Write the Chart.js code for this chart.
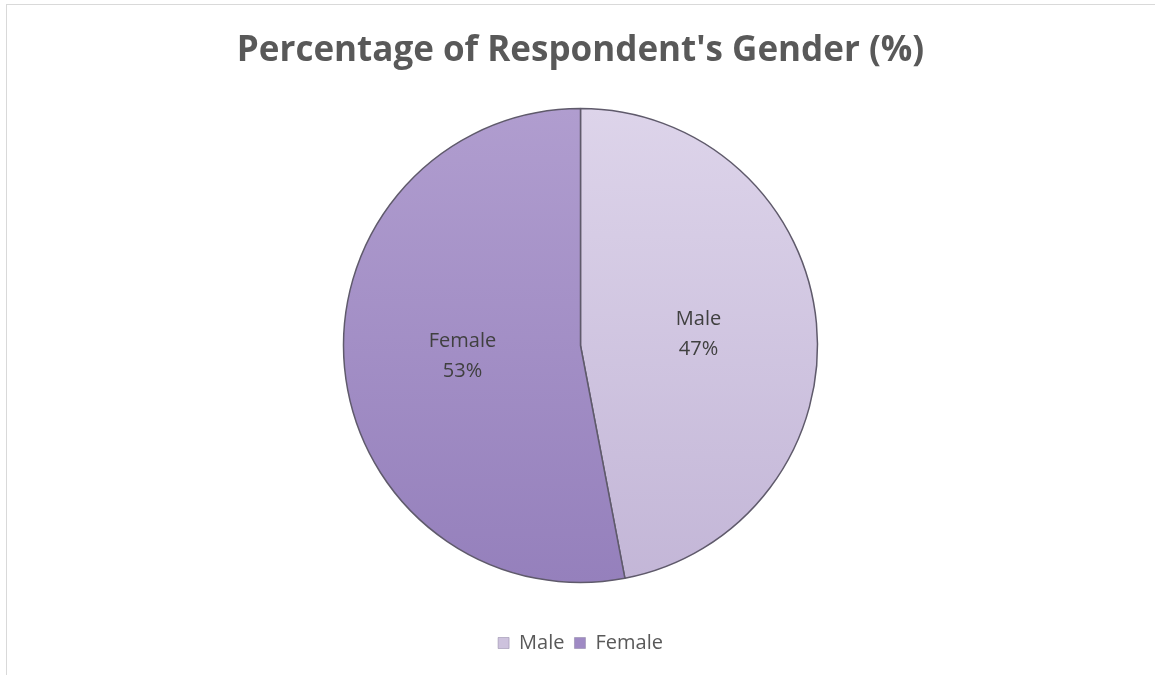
<!DOCTYPE html>
<html>
<head>
<meta charset="utf-8">
<script src="https://cdn.jsdelivr.net/npm/chart.js@4.4.0/dist/chart.umd.min.js"></script>
<style>
  html, body { margin: 0; padding: 0; background: #fff; }
  #wrap { position: relative; width: 1155px; height: 675px; }
  #frame { position: absolute; left: 6px; top: 4px; right: 0; bottom: 0;
           border-top: 1.5px solid #d9d9d9; border-left: 1.5px solid #d9d9d9; }
  canvas { position: absolute; left: 0; top: 0; }
</style>
</head>
<body>
<div id="wrap">
  <div id="frame"></div>
  <canvas id="mycanvas" width="1155" height="675"></canvas>
</div>
<script>
var kategorie = ["Male", "Female"];
var wartosci = [47, 53];
var tytul = "Percentage of Respondent's Gender (%)";

// kolory: gora / dol gradientu
var koloryGora = ['#ddd4ea', '#b09dcf'];
var koloryDol = ['#c3b6d7', '#9580bc'];
var koloryLegendy = ['#cdc2dd', '#9f8ac4'];

function gradient(context) {
	var chart = context.chart;
	var area = chart.chartArea;
	if (!area) return koloryLegendy[context.dataIndex];
	var meta = chart.getDatasetMeta(0);
	var arc = meta.data[context.dataIndex];
	var cy = arc && arc.y ? arc.y : (area.top + area.bottom) / 2;
	var r = arc && arc.outerRadius ? arc.outerRadius : 237;
	var g = chart.ctx.createLinearGradient(0, cy - r, 0, cy + r);
	g.addColorStop(0, koloryGora[context.dataIndex]);
	g.addColorStop(1, koloryDol[context.dataIndex]);
	return g;
}

// etykiety w srodku wycinkow
var etykiety = {
	id: 'etykiety',
	afterDatasetsDraw: function(chart) {
		var ctx = chart.ctx;
		var meta = chart.getDatasetMeta(0);
		var suma = wartosci.reduce(function(a, b) { return a + b; }, 0);
		ctx.save();
		ctx.fillStyle = '#404040';
		ctx.font = '20px "Open Sans"';
		ctx.textAlign = 'center';
		ctx.textBaseline = 'middle';
		meta.data.forEach(function(arc, i) {
			var p = arc.tooltipPosition();
			var proc = Math.round(wartosci[i] / suma * 100) + '%';
			ctx.fillText(kategorie[i], p.x, p.y - 15);
			ctx.fillText(proc, p.x, p.y + 15);
		});
		ctx.restore();
	}
};

var ctx = document.getElementById('mycanvas');

var wykres = new Chart(ctx, {
	type: 'pie',
	data: {
		labels: kategorie,
		datasets: [{
			data: wartosci,
			backgroundColor: gradient,
			borderColor: '#5f5a6b',
			borderWidth: 1.5,
			radius: 237
		}]
	},
	options: {
		responsive: false,
		animation: false,
		layout: { padding: { top: 14, bottom: 12, left: 6, right: 0 } },
		plugins: {
			title: {
				display: true,
				text: tytul,
				color: '#595959',
				font: { family: '"Open Sans"', size: 35, weight: 'bold' },
				padding: { top: 16, bottom: -4 }
			},
			legend: {
				position: 'bottom',
				labels: {
					color: '#595959',
					font: { family: '"Open Sans"', size: 20 },
					boxWidth: 11,
					boxHeight: 11,
					padding: 10,
					generateLabels: function(chart) {
						return kategorie.map(function(k, i) {
							return {
								text: k,
								fillStyle: koloryLegendy[i],
								strokeStyle: '#8a80a0',
								lineWidth: 0.5,
								fontColor: '#595959',
								index: i,
								hidden: false
							};
						});
					}
				}
			},
			tooltip: { enabled: false }
		}
	},
	plugins: [etykiety]
});
</script>
</body>
</html>
